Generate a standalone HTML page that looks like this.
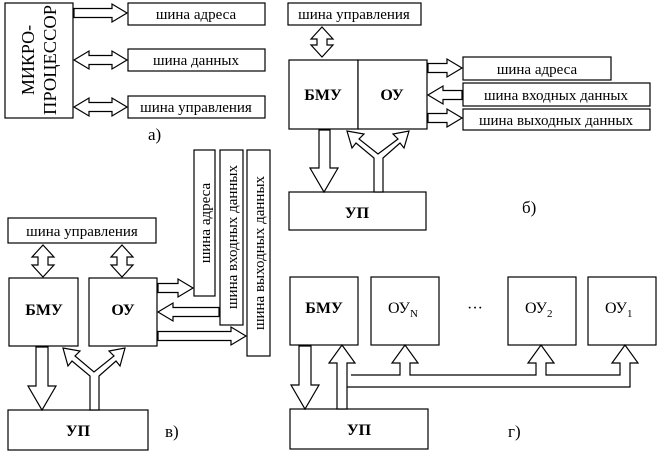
<!DOCTYPE html>
<html><head><meta charset="utf-8"><style>
html,body{margin:0;padding:0;background:#fff;width:660px;height:451px;overflow:hidden}
svg text{font-family:"Liberation Serif","DejaVu Serif",serif;fill:#000}
</style></head><body>
<svg width="660" height="451" viewBox="0 0 660 451" xmlns="http://www.w3.org/2000/svg">
<g fill="#fff" stroke="#000" stroke-width="1.2">
<rect x="5" y="3" width="68" height="115"/>
<rect x="128" y="3" width="137" height="22"/>
<rect x="128" y="49" width="137" height="22"/>
<rect x="128" y="96" width="137" height="22"/>
<polygon points="74,8.5 112,8.5 112,4 127,13 112,22 112,17.5 74,17.5"/>
<polygon points="74,60 89,51 89,55.5 112,55.5 112,51 127,60 112,69 112,64.5 89,64.5 89,69"/>
<polygon points="74,107 89,98 89,102.5 112,102.5 112,98 127,107 112,116 112,111.5 89,111.5 89,116"/>
<rect x="288" y="3" width="133" height="22"/>
<rect x="289" y="60" width="69" height="69"/>
<rect x="358" y="60" width="69" height="69"/>
<rect x="463" y="57" width="148" height="23"/>
<rect x="463" y="83" width="187" height="23"/>
<rect x="463" y="109" width="187" height="21"/>
<rect x="289" y="192" width="137" height="38"/>
<polygon points="322,27 333,39 327,39 327,45 333,45 322,57 311,45 317,45 317,39 311,39"/>
<polygon points="428,63.5 447,63.5 447,59 462,68 447,77 447,72.5 428,72.5"/>
<polygon points="462,90.5 443,90.5 443,86 428,95 443,104 443,99.5 462,99.5"/>
<polygon points="428,113.5 447,113.5 447,109 462,118 447,127 447,122.5 428,122.5"/>
<polygon points="319,130 330,130 330,168 338,168 324,192 310,168 319,168"/>
<polygon points="374,192 374,158 356,143 352,148 347,131 364,134 359,139 378,154 398,139 393,134 409,131 404,148 400,143 383,158 383,192"/>
<rect x="8" y="218" width="148" height="25"/>
<rect x="9" y="278" width="69" height="68"/>
<rect x="89" y="278" width="68" height="68"/>
<rect x="194" y="150" width="21" height="146"/>
<rect x="220" y="150" width="23" height="175"/>
<rect x="247" y="150" width="23" height="206"/>
<rect x="8" y="410" width="140" height="40"/>
<polygon points="43,245 54,257 48,257 48,265 54,265 43,277 32,265 38,265 38,257 32,257"/>
<polygon points="122,245 133,257 127,257 127,265 133,265 122,277 111,265 117,265 117,257 111,257"/>
<polygon points="158,283.5 178,283.5 178,279 193,288 178,297 178,292.5 158,292.5"/>
<polygon points="219,307.5 173,307.5 173,303 158,312 173,321 173,316.5 219,316.5"/>
<polygon points="158,331.5 231,331.5 231,327 246,336 231,345 231,340.5 158,340.5"/>
<polygon points="36,347 48,347 48,386 56,386 42,410 28,386 36,386"/>
<polygon points="90,410 90,376 72,361 68,366 63,348 80,351 75,356 94,372 114,356 109,351 125,348 120,366 116,361 99,376 99,410"/>
<rect x="290" y="277" width="68" height="68"/>
<rect x="371" y="277" width="68" height="68"/>
<rect x="508" y="277" width="68" height="68"/>
<rect x="588" y="277" width="68" height="68"/>
<rect x="290" y="409" width="138" height="40"/>
<polygon points="299,346 311,346 311,385 319,385 305,409 291,385 299,385"/>
<polygon points="337,409 337,363 329,363 342,345 355,363 347,363 347,409"/>
<polyline fill="none" points="347,387 630,387 630,363 638,363 625,345 612,363 620,363 620,375 546,375 546,363 554,363 541,345 528,363 536,363 536,375 410,375 410,363 418,363 405,345 392,363 400,363 400,375 351,375"/>
</g>
<g font-size="15">
<text x="196" y="19" text-anchor="middle">шина адреса</text>
<text x="196" y="65" text-anchor="middle">шина данных</text>
<text x="196" y="112" text-anchor="middle">шина управления</text>
<text x="354" y="19" text-anchor="middle">шина управления</text>
<text x="537" y="74" text-anchor="middle">шина адреса</text>
<text x="556" y="100" text-anchor="middle">шина входных данных</text>
<text x="556" y="125" text-anchor="middle">шина выходных данных</text>
<text x="82" y="236" text-anchor="middle">шина управления</text>
<text transform="translate(210,223) rotate(-90)" text-anchor="middle">шина адреса</text>
<text transform="translate(237,237) rotate(-90)" text-anchor="middle">шина входных данных</text>
<text transform="translate(264,253) rotate(-90)" text-anchor="middle">шина выходных данных</text>
</g>
<g font-size="18">
<text transform="translate(34,60) rotate(-90)" text-anchor="middle">МИКРО-</text>
<text transform="translate(56,60) rotate(-90)" text-anchor="middle" textLength="110" lengthAdjust="spacingAndGlyphs">ПРОЦЕССОР</text>
</g>
<g font-size="16" font-weight="bold">
<text x="323" y="100" text-anchor="middle">БМУ</text>
<text x="392" y="100" text-anchor="middle">ОУ</text>
<text x="357" y="218" text-anchor="middle">УП</text>
<text x="44" y="315" text-anchor="middle">БМУ</text>
<text x="123" y="315" text-anchor="middle">ОУ</text>
<text x="78" y="436" text-anchor="middle">УП</text>
<text x="324" y="313" text-anchor="middle">БМУ</text>
<text x="359" y="435" text-anchor="middle">УП</text>
</g>
<g font-size="16">
<text x="388" y="313">ОУ<tspan font-size="11" dy="4">N</tspan></text>
<text x="525" y="313">ОУ<tspan font-size="11" dy="4">2</tspan></text>
<text x="605" y="313">ОУ<tspan font-size="11" dy="4">1</tspan></text>
<text x="475" y="313" text-anchor="middle">···</text>
<text x="148" y="140" font-size="17">а)</text>
<text x="522" y="213" font-size="17">б)</text>
<text x="165" y="437" font-size="17">в)</text>
<text x="508" y="437" font-size="17">г)</text>
</g>
</svg>
</body></html>
